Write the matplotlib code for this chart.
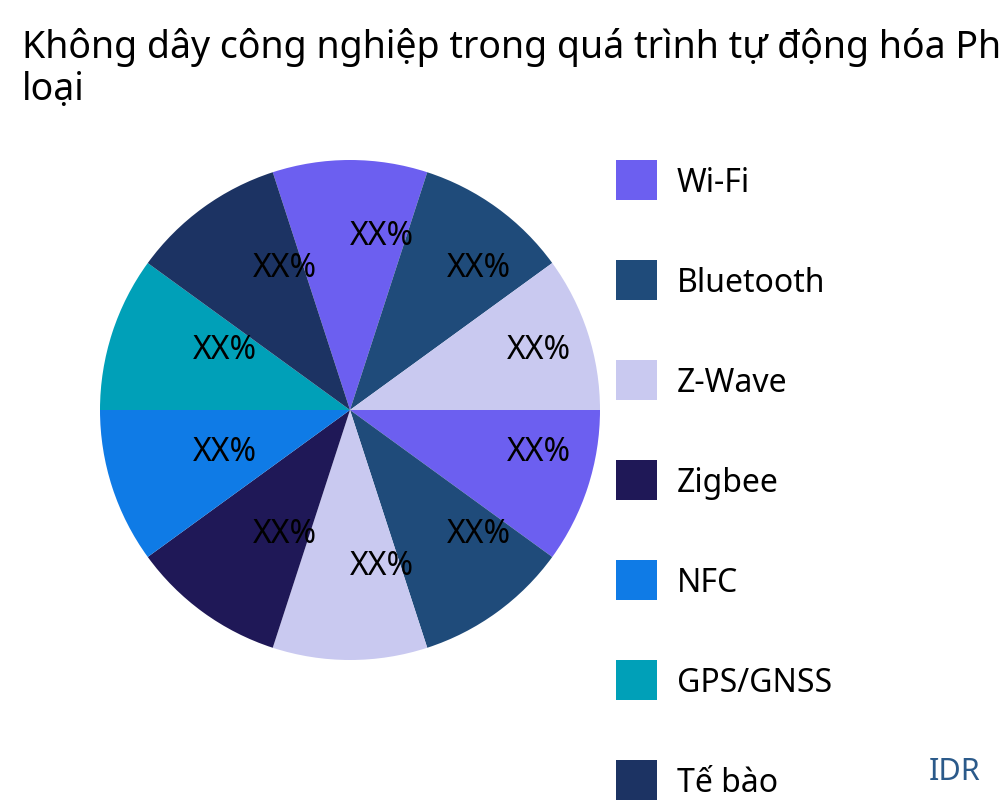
import matplotlib
matplotlib.use("Agg")
import matplotlib.pyplot as plt
from matplotlib.patches import Rectangle
import numpy as np

plt.rcParams['font.family'] = ['Noto Sans', 'DejaVu Sans']

title_lines = ["Không dây công nghiệp trong quá trình tự động hóa Phân khúc thị trường theo",
               "loại"]

# slice order (clockwise from top)
slice_labels = ["Wi-Fi", "Bluetooth", "Z-Wave", "WirelessHART", "LoRaWAN", "Khác",
                "Zigbee", "NFC", "GPS/GNSS", "Tế bào"]
slice_values = [10, 10, 10, 10, 10, 10, 10, 10, 10, 10]
slice_colors = ["#6C5FF0", "#1F4B7A", "#C9C9F0", "#6C5FF0", "#1F4B7A", "#C9C9F0",
                "#1F1857", "#0F7BE6", "#00A0B8", "#1C3363"]
slice_text = ["XX%"] * 10

legend_order = ["Wi-Fi", "Bluetooth", "Z-Wave", "Zigbee", "NFC", "GPS/GNSS", "Tế bào",
                "WirelessHART", "LoRaWAN", "Khác"]

fig = plt.figure(figsize=(10, 8), dpi=100)
ax = fig.add_axes([0.1, 0.175, 0.5, 0.625])
wedges, _ = ax.pie(slice_values, colors=slice_colors, startangle=108, counterclock=False,
                   radius=1, wedgeprops=dict(linewidth=0))
ax.set_xlim(-1, 1)
ax.set_ylim(-1, 1)
ax.set_aspect('equal')
ax.axis('off')

for w, t in zip(wedges, slice_text):
    ang = np.deg2rad((w.theta1 + w.theta2) / 2)
    r = 0.66
    ax.text(r * np.cos(ang), r * np.sin(ang), t, ha='left', va='baseline',
            fontsize=23, color='black')

baselines = [58, 100]
for line, yb in zip(title_lines, baselines):
    fig.text(0.022, 1 - yb / 800, line, ha='left', va='baseline', fontsize=27,
             color='black')

color_map = dict(zip(slice_labels, slice_colors))
for i, lab in enumerate(legend_order):
    top = 160 + i * 100
    fig.patches.append(Rectangle((616 / 1000, 1 - (top + 40) / 800), 41 / 1000, 40 / 800,
                                 transform=fig.transFigure, facecolor=color_map[lab],
                                 edgecolor='none'))
    fig.text(677 / 1000, 1 - (top + 20) / 800, lab, ha='left', va='center_baseline',
             fontsize=23, color='black')

fig.text(0.98, 1 - 768 / 800, "IDR", ha='right', va='center_baseline', fontsize=22,
         color='#2B5A8A')

fig.savefig("out.png", dpi=100)
